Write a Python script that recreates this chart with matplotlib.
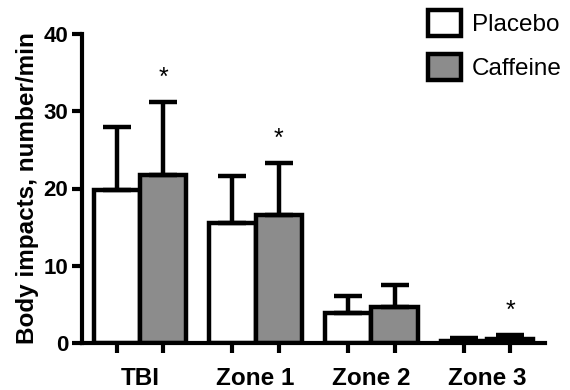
import numpy as np
import matplotlib
matplotlib.use('Agg')
import matplotlib.pyplot as plt
from matplotlib.patches import Patch

# =============================================================
# DATA
# =============================================================
categories = ['TBI', 'Zone 1', 'Zone 2', 'Zone 3']
placebo_mean = [19.8, 15.5, 3.9, 0.3]
placebo_sd = [8.2, 6.1, 2.2, 0.3]
caffeine_mean = [21.7, 16.6, 4.7, 0.5]
caffeine_sd = [9.5, 6.7, 2.8, 0.5]
significant = [True, True, False, True]   # * over caffeine bar
yticks = [0, 10, 20, 30, 40]

plt.rcParams['font.family'] = ['Liberation Sans', 'DejaVu Sans']

fig = plt.figure(figsize=(5.7, 3.9), dpi=100)
ax = fig.add_axes([82 / 570, 1 - 343 / 390, (545 - 82) / 570, (343 - 34) / 390])

x = np.arange(len(categories))
w = 0.4
lw = 3.2
gray = '#8c8c8c'
ekw = dict(elinewidth=lw, capsize=10, capthick=lw, ecolor='black')

ax.bar(x - w / 2, placebo_mean, w, color='white', edgecolor='black', linewidth=lw,
       yerr=[np.zeros(len(x)), placebo_sd], error_kw=ekw, zorder=2)
ax.bar(x + w / 2, caffeine_mean, w, color=gray, edgecolor='black', linewidth=lw,
       yerr=[np.zeros(len(x)), caffeine_sd], error_kw=ekw, zorder=2)

for i, sig in enumerate(significant):
    if sig:
        top = caffeine_mean[i] + caffeine_sd[i]
        ax.text(x[i] + w / 2, top + 2.2, '*', ha='center', va='baseline', fontsize=18)

ax.set_xlim(-0.5, 3.5)
ax.set_ylim(0, 40)
ax.set_yticks(yticks)
# ticks under each bar, labels at group centres
ax.set_xticks(np.concatenate([x - w / 2, x + w / 2]))
ax.set_xticklabels([])
ax.set_xticks(x, minor=True)
ax.set_xticklabels(categories, minor=True, fontsize=17.5, fontweight='bold')
ax.tick_params(axis='x', which='minor', length=0, pad=17)

ax.set_ylabel('Body impacts, number/min', fontsize=17.5, fontweight='bold', labelpad=3)
for lab in ax.get_yticklabels():
    lab.set_fontweight('bold')
    lab.set_fontsize(16)

for s in ['top', 'right']:
    ax.spines[s].set_visible(False)
for s in ['left', 'bottom']:
    ax.spines[s].set_linewidth(3)
ax.tick_params(which='major', width=3, length=7, direction='out', pad=3)

handles = [Patch(facecolor='white', edgecolor='black', linewidth=3.2, label='Placebo'),
           Patch(facecolor=gray, edgecolor='black', linewidth=3.2, label='Caffeine')]
fig.legend(handles=handles, loc='upper left', bbox_to_anchor=(428 / 570, 1 - 10 / 390),
           frameon=False, fontsize=17.5, handlelength=1.35, handleheight=1.3,
           handletextpad=0.45, labelspacing=0.7, borderpad=0, borderaxespad=0)

fig.savefig('out.png', dpi=100)
